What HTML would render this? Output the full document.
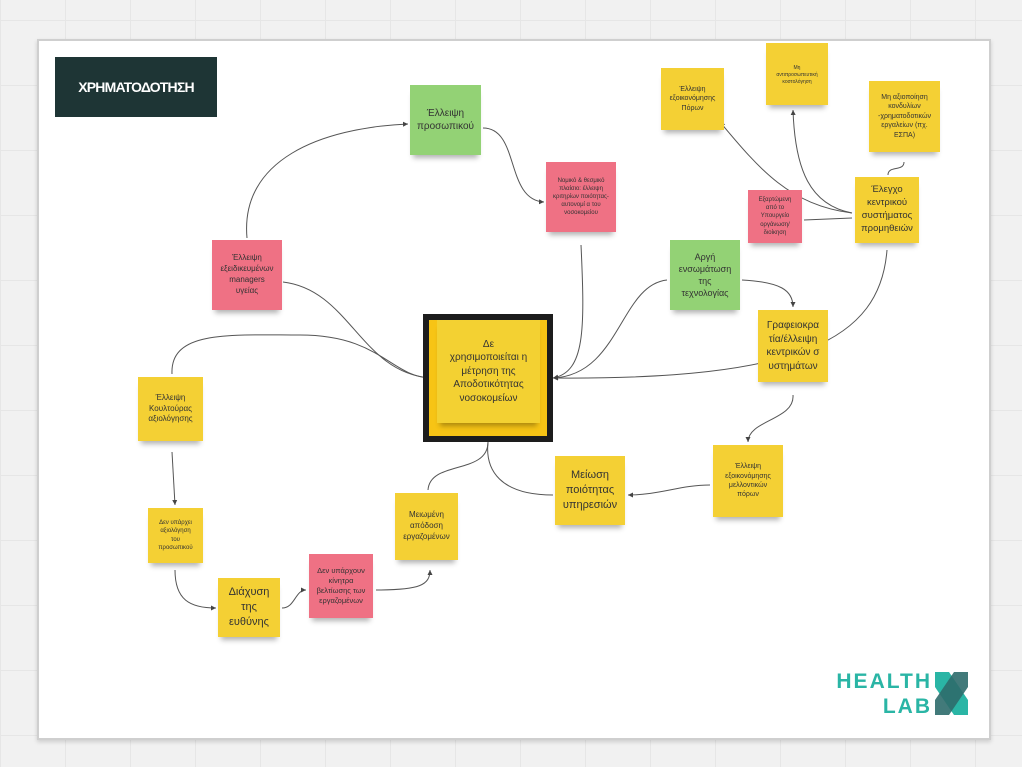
<!DOCTYPE html>
<html><head><meta charset="utf-8"><style>
body{margin:0;width:1022px;height:767px;overflow:hidden;background:#f1f1f1;font-family:"Liberation Sans","DejaVu Sans",sans-serif;
background-image:linear-gradient(#e6e6e6 1px,transparent 1px),linear-gradient(90deg,#e6e6e6 1px,transparent 1px);background-size:65px 65px;background-position:0 20px}
.frame{position:absolute;left:37px;top:39px;width:950px;height:697px;background:#fff;border:2px solid #cfcfcf;box-shadow:0 2px 4px rgba(0,0,0,.15)}
.n{position:absolute;display:flex;align-items:center;justify-content:center;text-align:center;color:#333;line-height:1.35;box-shadow:0 6px 5px -3px rgba(0,0,0,.3);box-sizing:border-box;padding:2px 7px}
.y{background:#f4d034}.g{background:#93d275}.p{background:#ef7184}
svg{position:absolute;left:0;top:0}
</style></head><body>
<div class="frame"></div>
<div style="position:absolute;left:55px;top:57px;width:162px;height:60px;background:#1e3535;color:#fff;font-weight:bold;font-size:14px;display:flex;align-items:center;justify-content:center;letter-spacing:-0.8px">ΧΡΗΜΑΤΟΔΟΤΗΣΗ</div>

<svg width="1022" height="767">
<defs><marker id="a" markerWidth="6" markerHeight="6" refX="5" refY="3" orient="auto"><path d="M0,0.5 L5,3 L0,5.5z" fill="#444"/></marker></defs>
<g fill="none" stroke="#555" stroke-width="1" marker-end="url(#a)">
<path d="M247,238 C240,160 320,128 408,124"/>
<path d="M483,128 C520,128 505,200 544,202"/>
<path d="M283,282 C350,290 360,372 430,378"/>
<path d="M172,374 C170,330 230,335 300,335 C380,335 390,376 430,378"/>
<path d="M581,245 C585,330 585,372 553,378"/>
<path d="M667,280 C620,285 620,375 553,378"/>
<path d="M887,250 C880,340 800,380 553,378"/>
<path d="M742,280 C780,282 793,290 793,307"/>
<path d="M793,395 C795,420 748,420 748,442"/>
<path d="M710,485 C680,485 660,495 628,495"/>
<path d="M172,452 L175,505"/>
<path d="M175,570 C175,600 190,608 216,608"/>
<path d="M282,608 C295,608 295,590 306,590"/>
<path d="M376,590 C420,590 430,585 430,570"/>
<path d="M852,213 C790,205 760,170 720,122"/>
<path d="M852,213 C810,205 795,170 793,110"/>
</g>
<g fill="none" stroke="#555" stroke-width="1">
<path d="M488,442 C485,470 500,495 553,495"/>
<path d="M488,442 C488,475 430,460 428,490"/>
<path d="M804,220 L852,218"/>
<path d="M888,175 C888,165 904,172 904,162"/>
</g>
</svg>

<div class="n g" style="left:410px;top:85px;width:71px;height:70px;font-size:10px">Έλλειψη<br>προσωπικού</div>
<div class="n p" style="left:546px;top:162px;width:70px;height:70px;font-size:6px">Νομικό &amp; θεσμικό πλαίσιο: έλλειψη κριτηρίων ποιότητας-αυτονομί α του νοσοκομείου</div>
<div class="n p" style="left:212px;top:240px;width:70px;height:70px;font-size:8px;padding:2px 10px">Έλλειψη εξειδικευμένων managers υγείας</div>
<div class="n y" style="left:661px;top:68px;width:63px;height:62px;font-size:7px">Έλλειψη εξοικονόμησης Πόρων</div>
<div class="n y" style="left:766px;top:43px;width:62px;height:62px;font-size:5px;align-items:flex-start;padding-top:22px">Μη αντιπροσωπευτική κοστολόγηση</div>
<div class="n y" style="left:869px;top:81px;width:71px;height:71px;font-size:7px">Μη αξιοποίηση κονδυλίων -χρηματοδοτικών εργαλείων (πχ. ΕΣΠΑ)</div>
<div class="n p" style="left:748px;top:190px;width:54px;height:53px;font-size:6px;padding:2px 9px">Εξαρτώμενη από το Υπουργείο οργάνωση/ διοίκηση</div>
<div class="n y" style="left:855px;top:177px;width:64px;height:66px;font-size:9.5px">Έλεγχο κεντρικού συστήματος προμηθειών</div>
<div class="n g" style="left:670px;top:240px;width:70px;height:70px;font-size:9px;padding:2px 10px">Αργή ενσωμάτωση της τεχνολογίας</div>
<div class="n y" style="left:758px;top:310px;width:70px;height:72px;font-size:10px;word-break:break-all">Γραφειοκρατία/έλλειψη κεντρικών συστημάτων</div>
<div style="position:absolute;left:423px;top:314px;width:118px;height:116px;border:6px solid #1d1d1d;background:#f7c415"></div>
<div class="n y" style="left:437px;top:320px;width:103px;height:103px;font-size:10px;background:#f3d132;padding:2px 12px">Δε χρησιμοποιείται η μέτρηση της Αποδοτικότητας νοσοκομείων</div>
<div class="n y" style="left:138px;top:377px;width:65px;height:64px;font-size:8px">Έλλειψη Κουλτούρας αξιολόγησης</div>
<div class="n y" style="left:713px;top:445px;width:70px;height:72px;font-size:7px;padding:2px 10px">Έλλειψη εξοικονόμησης μελλοντικών πόρων</div>
<div class="n y" style="left:555px;top:456px;width:70px;height:69px;font-size:11px">Μείωση ποιότητας υπηρεσιών</div>
<div class="n y" style="left:395px;top:493px;width:63px;height:67px;font-size:8px">Μειωμένη απόδοση εργαζομένων</div>
<div class="n y" style="left:148px;top:508px;width:55px;height:55px;font-size:6px;padding:2px 8px">Δεν υπάρχει αξιολόγηση του προσωπικού</div>
<div class="n p" style="left:309px;top:554px;width:64px;height:64px;font-size:7.5px">Δεν υπάρχουν κίνητρα βελτίωσης των εργαζομένων</div>
<div class="n y" style="left:218px;top:578px;width:62px;height:59px;font-size:11px">Διάχυση της ευθύνης</div>

<div style="position:absolute;left:800px;top:669px;color:#2ab5a5;font-weight:bold;font-size:21px;line-height:25px;text-align:right;width:132px;letter-spacing:2px">HEALTH<br>LAB</div>
<svg width="1022" height="767" style="pointer-events:none">
<polygon points="935,672 949,672 968,700 968,715 954,715 935,687" fill="#2ab5a5"/>
<polygon points="968,672 968,687 949,715 935,715 935,700 954,672" fill="#2d6b6b" opacity=".9"/>
</svg>
</body></html>
